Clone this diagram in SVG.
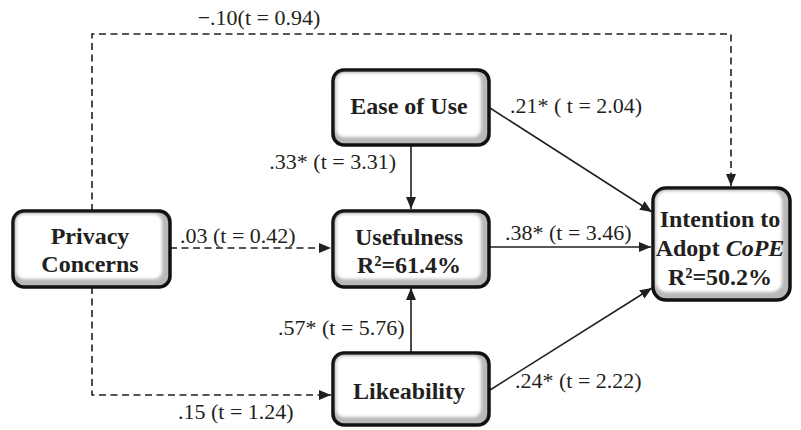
<svg xmlns="http://www.w3.org/2000/svg" width="801" height="430" viewBox="0 0 801 430">
<style>
.box{fill:#b8b8b8;stroke:#111;stroke-width:3.5}
.inner{fill:#fff;filter:url(#soft)}
.nt{font-family:'Liberation Serif','Times New Roman',Times,'DejaVu Serif',serif;font-weight:bold;font-size:24px;fill:#231f20;text-anchor:middle}
.lb{font-family:'Liberation Serif','Times New Roman',Times,'DejaVu Serif',serif;font-size:22px;fill:#231f20}
.ln{fill:none;stroke:#231f20;stroke-width:1.6}
.dash{stroke-dasharray:7 4.5}
</style>
<defs>
<filter id="soft" x="-10%" y="-10%" width="120%" height="120%"><feGaussianBlur stdDeviation="1.8"/></filter>
<marker id="ah" viewBox="0 0 12 10" refX="12" refY="5" markerWidth="12" markerHeight="10" markerUnits="userSpaceOnUse" orient="auto"><path d="M0,0 L12,5 L0,10 Z" fill="#231f20"/></marker>
</defs>
<g id="connectors">
<path class="ln dash" d="M92,211 V34 H731 V186" marker-end="url(#ah)"/>
<path class="ln dash" d="M92,287 V395 H331" marker-end="url(#ah)"/>
<path class="ln dash" d="M170,248 H331" marker-end="url(#ah)"/>
<path class="ln" d="M411,145 V209" marker-end="url(#ah)"/>
<path class="ln" d="M411,353 V288" marker-end="url(#ah)"/>
<path class="ln" d="M490,247 H651" marker-end="url(#ah)"/>
<path class="ln" d="M490,108 L652,212" marker-end="url(#ah)"/>
<path class="ln" d="M490,390 L652,288" marker-end="url(#ah)"/>
<text class="lb" x="259" y="25" text-anchor="middle">−.10(t = 0.94)</text>
<text class="lb" x="510" y="113">.21* ( t = 2.04)</text>
<text class="lb" x="396" y="169" text-anchor="end">.33* (t = 3.31)</text>
<text class="lb" x="180" y="243">.03 (t = 0.42)</text>
<text class="lb" x="505" y="240">.38* (t = 3.46)</text>
<text class="lb" x="278" y="335">.57* (t = 5.76)</text>
<text class="lb" x="515" y="388">.24* (t = 2.22)</text>
<text class="lb" x="178" y="419">.15 (t = 1.24)</text>
</g>
<g id="privacy">
<rect class="box" x="13" y="211" width="157" height="76" rx="11"/>
<rect class="inner" x="16" y="214" width="146" height="65" rx="8"/>
<text class="nt" x="90" y="244">Privacy</text>
<text class="nt" x="90" y="272">Concerns</text>
</g>
<g id="ease">
<rect class="box" x="333" y="70" width="156" height="75" rx="11"/>
<rect class="inner" x="336" y="73" width="145" height="64" rx="8"/>
<text class="nt" x="409" y="114">Ease of Use</text>
</g>
<g id="usefulness">
<rect class="box" x="333" y="211" width="156" height="76" rx="11"/>
<rect class="inner" x="336" y="214" width="145" height="65" rx="8"/>
<text class="nt" x="409" y="245">Usefulness</text>
<text class="nt" x="409" y="273">R²=61.4%</text>
</g>
<g id="likeability">
<rect class="box" x="333" y="353" width="156" height="72" rx="11"/>
<rect class="inner" x="336" y="356" width="145" height="61" rx="8"/>
<text class="nt" x="409" y="399">Likeability</text>
</g>
<g id="intention">
<rect class="box" x="653" y="188" width="137" height="112" rx="13"/>
<rect class="inner" x="656" y="191" width="126" height="101" rx="10"/>
<text class="nt" x="720" y="227">Intention to</text>
<text class="nt" x="720" y="256">Adopt <tspan font-style="italic">CoPE</tspan></text>
<text class="nt" x="720" y="285">R²=50.2%</text>
</g>
</svg>
